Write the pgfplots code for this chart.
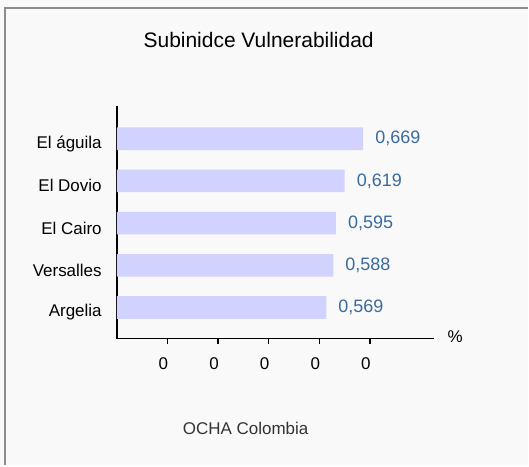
\documentclass[border=0pt]{standalone}
\usepackage{pgfplots}
\pgfplotsset{compat=1.18}
\usepackage{fontspec}
\setmainfont{Liberation Sans}
\definecolor{bg}{HTML}{F9F9F9}
\definecolor{barfill}{HTML}{D2D2FF}
\definecolor{vallab}{HTML}{3A6A9E}
\definecolor{framegray}{HTML}{8C8C8C}
\begin{document}
\begin{tikzpicture}[x=1bp,y=1bp]
  \fill[bg] (0,0) rectangle (529,466);
  \draw[framegray, line width=1.5bp] (5,0) -- (5,458) -- (529,458);
  \node[font=\fontsize{21bp}{24bp}\selectfont] at (259,426) {Subinidce Vulnerabilidad};
  \node[font=\fontsize{17bp}{20bp}\selectfont, text=black!80] at (246,37) {OCHA Colombia};
  \begin{axis}[
    at={(117bp,127bp)}, anchor=south west,
    scale only axis, width=318bp, height=233bp,
    xmin=0, xmax=0.8627, ymin=-0.735, ymax=4.78,
    axis x line*=bottom, axis y line*=left,
    axis line style={line width=1.5bp, black, -},
    xbar, bar width=22.6bp,
    xtick={0.1375,0.275,0.4125,0.55,0.6875},
    xticklabels={0,0,0,0,0},
    ytick={0,1,2,3,4},
    yticklabels={Argelia,Versalles,El Cairo,El Dovio,El águila},
    tick align=outside, major tick length=5bp,
    xtick style={line width=1.5bp, black},
    ytick style={draw=none},
    /pgf/number format/assume math mode=true,
    ticklabel style={font=\fontsize{17bp}{20bp}\selectfont},
    xticklabel style={yshift=-11bp, xshift=-4bp},
    yticklabel style={inner sep=0pt, xshift=-10bp, yshift=-5bp},
    xlabel={\%},
    xlabel style={at={(axis description cs:1,0)}, anchor=west, inner sep=0pt,
      xshift=13bp, yshift=2bp, font=\fontsize{17bp}{20bp}\selectfont},
    clip=false,
  ]
    \addplot[fill=barfill, draw=none,
      nodes near coords, point meta=explicit symbolic,
      nodes near coords style={anchor=west, inner sep=0pt, xshift=12bp, yshift=0bp,
        text=vallab, font=\fontsize{18bp}{20bp}\selectfont}]
      coordinates {
        (0.569,0) [0,569]
        (0.588,1) [0,588]
        (0.595,2) [0,595]
        (0.619,3) [0,619]
        (0.669,4) [0,669]
      };
  \end{axis}
\end{tikzpicture}
\end{document}
